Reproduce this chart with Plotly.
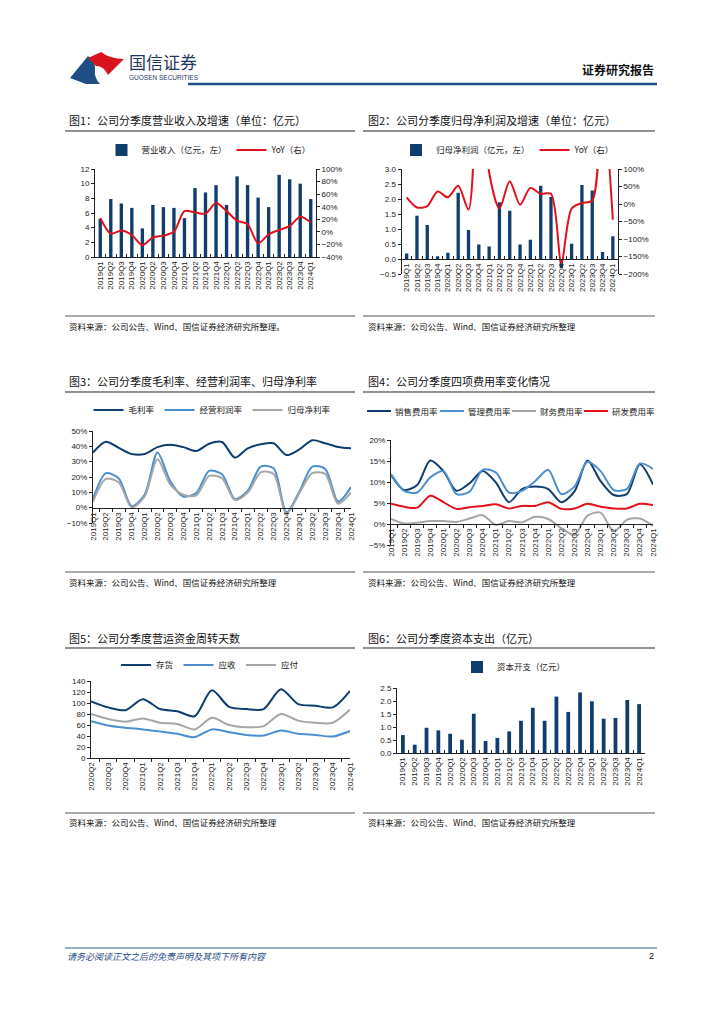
import plotly.graph_objects as go

W, H = 724, 1024
def X(p): return p / W
def Y(p): return 1 - p / H

FONT = "Noto Sans CJK SC"
TFONT = "Liberation Sans Narrow, Liberation Sans, Arial"

# ---------------- DATA ----------------
quarters = ["2019Q1", "2019Q2", "2019Q3", "2019Q4", "2020Q1", "2020Q2", "2020Q3", "2020Q4",
            "2021Q1", "2021Q2", "2021Q3", "2021Q4", "2022Q1", "2022Q2", "2022Q3", "2022Q4",
            "2023Q1", "2023Q2", "2023Q3", "2023Q4", "2024Q1"]
quarters5 = ["2020Q2", "2020Q3", "2020Q4", "2021Q1", "2021Q2", "2021Q3", "2021Q4", "2022Q1",
             "2022Q2", "2022Q3", "2022Q4", "2023Q1", "2023Q2", "2023Q3", "2023Q4", "2024Q1"]

revenue = [5.2, 7.9, 7.3, 6.7, 3.9, 7.1, 6.8, 6.7, 5.3, 9.4, 8.8, 9.8, 7.1, 11.0, 9.8, 8.1,
           6.8, 11.2, 10.6, 10.0, 7.9]
revenue_yoy = [22, -3, 2, -5, -21, -9, -6, 0, 33, 31, 29, 46, 33, 18, 12, -18, -4, 3, 9, 24, 15]

net_profit = [0.18, 1.44, 1.13, 0.09, 0.21, 2.21, 0.97, 0.48, 0.42, 1.89, 1.61, 0.48, 0.64, 2.44,
              2.07, -0.30, 0.51, 2.47, 2.28, 0.23, 0.76]
net_profit_yoy = [19, -10, -6, 36, 19, 52, -16, 430, 90, -13, 65, -2, 46, 29, 29, -168, -13, 3, 10,
                  300, -45]

gross_margin = [36, 43, 39, 35, 35, 39.5, 41, 39.5, 37, 41.7, 42.8, 32.6, 38.7, 41.3, 42, 34.3,
                38, 44, 42, 39.5, 38.7]
op_margin = [5.6, 22.5, 19, 1, 8.4, 36, 17, 7.3, 9.5, 24, 21.8, 5.6, 11, 26.8, 25.7, -3.0,
             10.5, 26.8, 25.3, 4, 13.4]
net_margin = [4, 18.8, 16.4, 0.2, 7.3, 31.5, 15, 8.4, 8, 20.7, 19.2, 5, 9.9, 23, 22, -4,
              9.5, 22.5, 22, 2.6, 9.9]

selling_rate = [11.7, 8.1, 9.3, 15.1, 12.6, 7.9, 9.7, 12.6, 9.9, 5.2, 8.3, 8.9, 8.3, 5.2, 7.7, 15.1,
                10.2, 6.9, 7.1, 14.2, 9.4]
admin_rate = [11.9, 7.9, 7.5, 11.1, 12.6, 7.1, 7.7, 12.9, 12.3, 7.5, 7.9, 10.2, 12.9, 7.1, 8.9, 14.8,
              12.6, 8.1, 8.3, 14.4, 13.1]
finance_rate = [1.2, 0.1, 0.3, 0.7, 0.7, 0.5, 1.3, 2.1, -0.2, 0.7, 0.4, 1.7, 1.2, -1.0, -2.6, 2.0,
                2.7, -1.8, 1.0, 1.3, -0.5]
rd_rate = [4.8, 4.1, 3.9, 6.7, 5.2, 3.6, 4.0, 4.3, 4.7, 3.7, 4.3, 4.3, 5.2, 3.6, 3.7, 4.8,
           4.1, 3.7, 3.7, 4.8, 4.5]

inventory_days = [103, 92, 87, 107, 89, 85, 76, 123, 93, 89, 89, 125, 98, 95, 92, 122]
receivable_days = [67, 59, 55, 52, 48, 44, 38, 52, 47, 42, 41, 50, 44, 42, 39, 49]
payable_days = [80, 71, 66, 72, 64, 62, 52, 73, 60, 56, 58, 80, 68, 64, 64, 88]

capex = [0.69, 0.32, 0.97, 0.87, 0.74, 0.51, 1.51, 0.46, 0.58, 0.83, 1.24, 1.74, 1.24, 2.17, 1.58,
         2.33, 1.99, 1.32, 1.35, 2.04, 1.88]

# ---------------- COLOURS ----------------
NAVY = "#0e3d6e"
LBLUE = "#4a8fcf"
GRAY = "#a6a6a6"
RED = "#e3101c"

fig = go.Figure()

# Chart 1
fig.add_trace(go.Bar(x=quarters, y=revenue, name="营业收入（亿元，左）", marker_color=NAVY,
                     xaxis="x", yaxis="y", legend="legend"))
fig.add_trace(go.Scatter(x=quarters, y=revenue_yoy, name="YoY（右）", mode="lines",
                         line=dict(color=RED, width=2, shape="spline", smoothing=0.8),
                         xaxis="x", yaxis="y2", legend="legend"))
# Chart 2
fig.add_trace(go.Bar(x=quarters, y=net_profit, name="归母净利润（亿元，左）", marker_color=NAVY,
                     xaxis="x2", yaxis="y3", legend="legend2"))
fig.add_trace(go.Scatter(x=quarters, y=net_profit_yoy, name="YoY（右）", mode="lines",
                         line=dict(color=RED, width=2, shape="spline", smoothing=0.8),
                         xaxis="x2", yaxis="y4", legend="legend2"))
# Chart 3
for vals, nm, col in [(gross_margin, "毛利率", NAVY), (op_margin, "经营利润率", LBLUE),
                      (net_margin, "归母净利率", GRAY)]:
    fig.add_trace(go.Scatter(x=quarters, y=vals, name=nm, mode="lines",
                             line=dict(color=col, width=2, shape="spline", smoothing=0.8),
                             xaxis="x3", yaxis="y5", legend="legend3"))
# Chart 4 (compact legend drawn below as shapes + text, like the original)
chart4 = [(selling_rate, "销售费用率", NAVY), (admin_rate, "管理费用率", LBLUE),
          (finance_rate, "财务费用率", GRAY), (rd_rate, "研发费用率", RED)]
for vals, nm, col in chart4:
    fig.add_trace(go.Scatter(x=quarters, y=vals, name=nm, mode="lines", showlegend=False,
                             line=dict(color=col, width=2, shape="spline", smoothing=0.8),
                             xaxis="x4", yaxis="y6"))
# Chart 5
for vals, nm, col in [(inventory_days, "存货", NAVY), (receivable_days, "应收", LBLUE),
                      (payable_days, "应付", GRAY)]:
    fig.add_trace(go.Scatter(x=quarters5, y=vals, name=nm, mode="lines",
                             line=dict(color=col, width=2, shape="spline", smoothing=0.8),
                             xaxis="x5", yaxis="y7", legend="legend5"))
# Chart 6
fig.add_trace(go.Bar(x=quarters, y=capex, name="资本开支（亿元）", marker_color=NAVY,
                     xaxis="x6", yaxis="y8", legend="legend6"))

# ---------------- AXES ----------------
tickfont = dict(family=TFONT, size=8, color="#222")
def xax(d, ticks="inside", **kw):
    a = dict(domain=[X(d[0]), X(d[1])], type="category", showline=True, linecolor="#222",
             linewidth=1, ticks=ticks, tickson="boundaries", ticklen=3, tickcolor="#222",
             tickangle=-90, tickfont=tickfont, showgrid=False, zeroline=False, fixedrange=True)
    a.update(kw)
    return a
def yax(d, rng, dtick, **kw):
    a = dict(domain=[Y(d[1]), Y(d[0])], range=rng, dtick=dtick, showline=True, linecolor="#222",
             linewidth=1, ticks="outside", ticklen=3, tickcolor="#222", tickfont=tickfont,
             showgrid=False, zeroline=False, fixedrange=True)
    a.update(kw)
    return a

layout_axes = dict(
    xaxis=xax((95, 316), anchor="y"),
    yaxis=yax((169, 257), [0, 12], 2, anchor="x"),
    yaxis2=yax((169, 257), [-40, 100], 20, anchor="x", overlaying="y", side="right", ticksuffix="%"),
    xaxis2=xax((401.5, 618), anchor="free", position=Y(259.3)),
    yaxis3=yax((169, 274), [-0.5, 3.0], 0.5, anchor="x2", tickformat=".1f"),
    yaxis4=yax((169, 274), [-200, 100], 50, anchor="x2", overlaying="y3", side="right", ticksuffix="%"),
    xaxis3=xax((93, 351), ticks="outside", anchor="free", position=Y(508)),
    yaxis5=yax((431, 523), [-10, 50], 10, anchor="x3", ticksuffix="%"),
    xaxis4=xax((391, 653), ticks="outside", anchor="free", position=Y(524)),
    yaxis6=yax((440, 545), [-5, 20], 5, anchor="x4", ticksuffix="%"),
    xaxis5=xax((91, 350), ticks="outside", anchor="y7"),
    yaxis7=yax((681, 758), [0, 140], 20, anchor="x5"),
    xaxis6=xax((397, 645), anchor="y8"),
    yaxis8=yax((688, 753), [0, 2.5], 0.5, anchor="x6", tickformat=".1f"),
)

def leg(cx, cy, size=8.5, **kw):
    d = dict(x=X(cx), y=Y(cy), xanchor="center", yanchor="middle", orientation="h",
             font=dict(family=FONT, size=size, color="#222"), bgcolor="rgba(0,0,0,0)",
             itemwidth=30, tracegroupgap=0)
    d.update(kw)
    return d

# ---------------- SHAPES ----------------
shapes = []
def hline(x0, x1, y, color="#222", width=1):
    shapes.append(dict(type="line", xref="paper", yref="paper", x0=X(x0), x1=X(x1), y0=Y(y), y1=Y(y),
                       line=dict(color=color, width=width)))
hline(188, 657, 84, "#1f4e89", 2.5)
for y in (131, 392, 648):
    hline(65, 355, y, "#222", 1.2)
    hline(363, 655, y, "#222", 1.2)
for y in (316, 572, 813):
    hline(65, 355, y, "#555", 1)
    hline(363, 655, y, "#555", 1)
hline(65, 657, 948, "#2f5f96", 1)

def path(points):
    s = ""
    for cmd, pts in points:
        s += cmd + " " + " ".join(f"{X(px):.5f},{Y(py):.5f}" for px, py in pts) + " "
    return s + "Z"
blue_logo = path([("M", [(70, 78)]), ("L", [(88, 56)]), ("Q", [(96, 62), (95, 70)]),
                  ("Q", [(94, 78), (100, 84)]), ("L", [(86, 84)])])
red_logo = path([("M", [(88, 58)]), ("L", [(101, 52)]), ("Q", [(110, 59), (124, 59)]),
                 ("L", [(108, 75)]), ("Q", [(104, 66), (96, 66)]), ("Q", [(92, 62), (88, 58)])])
shapes.append(dict(type="path", xref="paper", yref="paper", path=blue_logo,
                   fillcolor="#1d4f85", line=dict(width=0)))
shapes.append(dict(type="path", xref="paper", yref="paper", path=red_logo,
                   fillcolor="#d7141e", line=dict(width=0)))

# ---------------- ANNOTATIONS ----------------
ann = []
def text(x, y, s, size=10, color="#111", anchor="left", family=FONT, **kw):
    ann.append(dict(x=X(x), y=Y(y), xref="paper", yref="paper", text=s, showarrow=False,
                    xanchor=anchor, yanchor="middle", font=dict(family=family, size=size, color=color), **kw))

# compact legend for chart 4
leg4_x = [367, 440, 512, 584]
for (vals, nm, col), lx in zip(chart4, leg4_x):
    shapes.append(dict(type="line", xref="paper", yref="paper", x0=X(lx), x1=X(lx + 24),
                       y0=Y(411), y1=Y(411), line=dict(color=col, width=2)))
    text(lx + 26, 411, nm, 8.5, "#222")

text(127, 61, "国信证券", 17, "#1f3864")
text(127, 77, "GUOSEN SECURITIES", 6.5, "#1f3864", family="Liberation Sans")
text(656, 69, "<b>证券研究报告</b>", 12, "#111", anchor="right")
text(67, 120, "图1：公司分季度营业收入及增速（单位：亿元）", 11)
text(366, 120, "图2：公司分季度归母净利润及增速（单位：亿元）", 11)
text(67, 381, "图3：公司分季度毛利率、经营利润率、归母净利率", 11)
text(366, 381, "图4：公司分季度四项费用率变化情况", 11)
text(67, 638, "图5：公司分季度营运资金周转天数", 11)
text(366, 638, "图6：公司分季度资本支出（亿元）", 11)
src = "资料来源：公司公告、Wind、国信证券经济研究所整理"
text(67, 326, src + "。", 8.5)
text(366, 326, src, 8.5)
text(67, 582, src, 8.5)
text(366, 582, src, 8.5)
text(67, 822, src, 8.5)
text(366, 822, src, 8.5)
text(65, 956, "<i>请务必阅读正文之后的免责声明及其项下所有内容</i>", 9, "#1f4e89")
text(656, 956, "2", 9, "#111", anchor="right", family="Liberation Sans")

fig.update_layout(
    width=W, height=H, margin=dict(l=0, r=0, t=0, b=0),
    paper_bgcolor="white", plot_bgcolor="white", template="none",
    bargap=0.68, showlegend=True,
    legend=leg(209, 150),
    legend2=leg(508, 150),
    legend3=leg(212, 410),
    legend5=leg(210, 665),
    legend6=leg(514, 667),
    shapes=shapes, annotations=ann,
    **layout_axes,
)

fig.write_html("out.html", config={"displayModeBar": False},
               post_script="document.body.style.margin='0';document.body.style.overflow='hidden';")
